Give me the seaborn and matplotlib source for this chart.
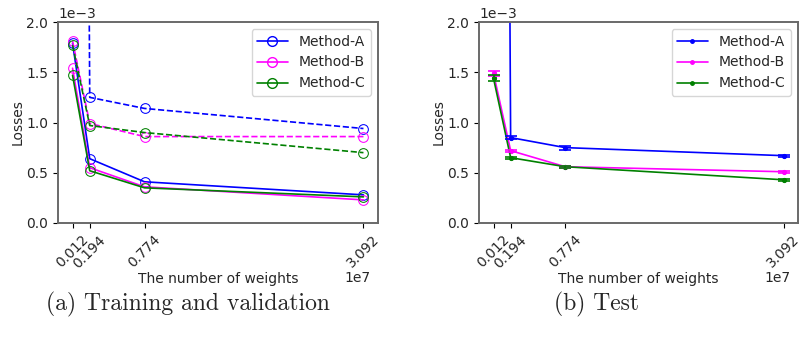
import matplotlib
matplotlib.use("Agg")
import matplotlib.pyplot as plt
import seaborn as sns
import pandas as pd
import numpy as np
from matplotlib.lines import Line2D

# ---- data ----
weights = [0.012e7, 0.194e7, 0.774e7, 3.092e7]
methods = ["Method-A", "Method-B", "Method-C"]
colors = ["blue", "magenta", "green"]

# training / validation losses (x1e-3)
train_A = [1.79, 0.64, 0.41, 0.28]
train_B = [1.54, 0.55, 0.36, 0.23]
train_C = [1.47, 0.52, 0.35, 0.26]
val_A = [30.0, 1.25, 1.14, 0.94]
val_B = [1.81, 0.99, 0.86, 0.86]
val_C = [1.77, 0.97, 0.90, 0.70]

# test losses (x1e-3) and error bars
test_A = [30.0, 0.85, 0.75, 0.67]
test_B = [1.49, 0.72, 0.56, 0.51]
test_C = [1.44, 0.65, 0.56, 0.43]
err_A = [0.5, 0.015, 0.02, 0.01]
err_B = [0.025, 0.01, 0.01, 0.01]
err_C = [0.03, 0.01, 0.01, 0.01]

train = [train_A, train_B, train_C]
val = [val_A, val_B, val_C]
test = [test_A, test_B, test_C]
errs = [err_A, err_B, err_C]

sns.set_style("white")
plt.rcParams["font.family"] = ["DejaVu Sans"]
FS = 10

fig = plt.figure(figsize=(8.01, 3.46), dpi=100)
W, H = 801, 346
ax1 = fig.add_axes([58 / W, 1 - 223 / H, 320 / W, 201 / H])
ax2 = fig.add_axes([479 / W, 1 - 223 / H, 319 / W, 201 / H])

def rows(vals, kind):
    recs = []
    for m, v in zip(methods, vals):
        for x, y in zip(weights, v):
            recs.append({"w": x, "loss": y * 1e-3, "method": m, "kind": kind})
    return pd.DataFrame(recs)

df_train = rows(train, "train")
df_val = rows(val, "val")
df_test = rows(test, "test")
pal = dict(zip(methods, colors))

sns.lineplot(data=df_train, x="w", y="loss", hue="method", palette=pal, ax=ax1,
             marker="o", markersize=7, linewidth=1.2, legend=False)
sns.lineplot(data=df_val, x="w", y="loss", hue="method", palette=pal, ax=ax1,
             marker="o", markersize=7, linewidth=1.2, linestyle="--", legend=False)
for ln in ax1.get_lines():
    ln.set_markeredgecolor(ln.get_color())
    ln.set_markerfacecolor("none")

sns.lineplot(data=df_test, x="w", y="loss", hue="method", palette=pal, ax=ax2,
             marker=".", markersize=6, linewidth=1.2, legend=False)
for ln in ax2.get_lines():
    ln.set_markeredgecolor(ln.get_color())
for m, c, v, e in zip(methods, colors, test, errs):
    ax2.errorbar(weights, np.array(v) * 1e-3, yerr=np.array(e) * 1e-3, fmt="none",
                 ecolor=c, capsize=4, elinewidth=1.2, capthick=1.2)

for ax, mk, ox in [(ax1, "o", 358), (ax2, ".", 777)]:
    ax.set_ylim(0, 2.0e-3)
    ax.set_yticks([0, 0.5e-3, 1.0e-3, 1.5e-3, 2.0e-3])
    ax.ticklabel_format(axis="y", style="sci", scilimits=(0, 0))
    ax.set_xticks(weights)
    ax.tick_params(axis="x", labelrotation=45, labelsize=FS)
    ax.tick_params(axis="y", labelsize=FS)
    ax.tick_params(axis="both", which="major", length=3.5, width=0.8, color="black",
                   direction="out", bottom=True, left=True)
    for s in ax.spines.values():
        s.set_color("dimgray")
        s.set_linewidth(1.4)
    ax.set_xlabel("The number of weights", fontsize=FS, labelpad=1)
    ax.set_ylabel("Losses", fontsize=FS, labelpad=1.5)
    ax.yaxis.get_offset_text().set_fontsize(FS)
    ax.xaxis.get_offset_text().set_visible(False)
    fig.text(ox / W, 1 - 278 / H, "1e7", fontsize=FS, ha="center", va="center")
    handles = [Line2D([], [], color=c, marker=mk, markersize=(7 if mk == "o" else 5),
                      markerfacecolor=("none" if mk == "o" else c), markeredgecolor=c,
                      linewidth=1.2) for c in colors]
    ax.legend(handles, methods, loc="upper right", fontsize=FS, frameon=True,
              framealpha=0.8, edgecolor="#cccccc", fancybox=True, handlelength=2.2)

fig.text(188 / W, 1 - 304 / H, "(a) Training and validation", family="cmr10",
         fontsize=17, ha="center", va="center")
fig.text(597 / W, 1 - 304 / H, "(b) Test", family="cmr10",
         fontsize=17, ha="center", va="center")

fig.savefig("out.png", dpi=100)
